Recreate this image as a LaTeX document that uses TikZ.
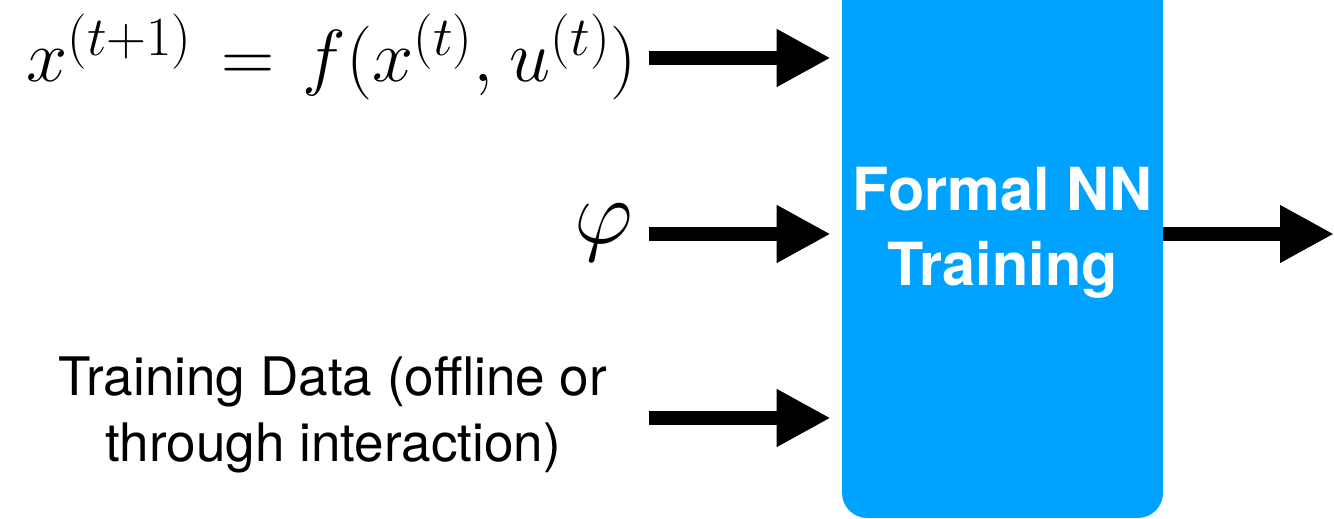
\RequirePackage{fix-cm}
\documentclass[tikz,border=0pt]{standalone}
\usepackage{fontspec}
\setmainfont{TeX Gyre Heros}
\usetikzlibrary{arrows.meta, positioning, calc}
\definecolor{nnblue}{HTML}{00A2FF}
\DeclareMathSizes{42}{42}{31.5}{24}

\begin{document}
\begin{tikzpicture}
  [x=0.02cm, y=0.02cm,
  flow/.style={-{Triangle[length=1.08cm, width=1.08cm]}, line width=0.28cm, black},
  block/.style={rectangle, fill=nnblue, text=white, font=\fontsize{33.8}{42.5}\selectfont\bfseries, align=center, minimum width=6.42cm, minimum height=11.4cm, rounded corners=0.5cm, inner sep=0pt},
  inlabel/.style={inner sep=0pt}
  ]
  \useasboundingbox (0,0) rectangle (1334,519);

  % Nodes
  \node[block] (train) at (1002.5, 286) {Formal NN\\Training};
  \node[inlabel, anchor=base east, font=\fontsize{42}{42}\selectfont] (dyn) at (637, 437) {\thickmuskip=7mu \thinmuskip=4mu $x^{(t+1)} = f(x^{(t)}, u^{(t)})$};
  \node[inlabel, anchor=east, font=\fontsize{52}{52}\selectfont] (spec) at (633, 286) {$\varphi$};
  \node[inlabel, align=center, font=\fontsize{30.2}{37.5}\selectfont] (data) at (333, 104) {Training Data (offline or\\through interaction)};

  % Arrows
  \coordinate (in1) at (649, 461);
  \coordinate (in2) at (649, 285);
  \coordinate (in3) at (649, 101);
  \coordinate (out) at (1334, 285);
  \draw[flow, shorten >=0.22cm] (in1) -- (train.west |- in1);
  \draw[flow, shorten >=0.22cm] (in2) -- (train.west |- in2);
  \draw[flow, shorten >=0.22cm] (in3) -- (train.west |- in3);
  \draw[flow] (train.east |- out) -- (out);
\end{tikzpicture}
\end{document}
